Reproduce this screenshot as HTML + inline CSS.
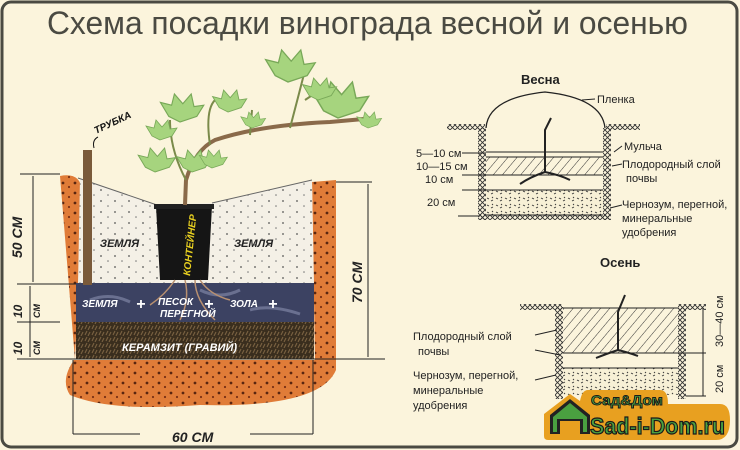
<!DOCTYPE html>
<html><head><meta charset="utf-8"><style>
html,body{margin:0;padding:0;background:#fff;}
svg{display:block;}
text{font-family:"Liberation Sans","DejaVu Sans",sans-serif;}
.h{font-style:italic;font-weight:bold;}
</style></head><body>
<svg width="740" height="450" viewBox="0 0 740 450" xmlns="http://www.w3.org/2000/svg">
<defs>
<pattern id="dots" width="14" height="11" patternUnits="userSpaceOnUse"><rect width="14" height="11" fill="#f4f0e6"/><circle cx="3" cy="3" r="0.9" fill="#555"/><circle cx="10" cy="8" r="0.8" fill="#777"/></pattern>
<pattern id="grav" width="7" height="6" patternUnits="userSpaceOnUse"><rect width="7" height="6" fill="#3a2e1e"/><path d="M1 5 L3 1 M4 6 L6 2" stroke="#7a6242" stroke-width="1.1"/></pattern>
<pattern id="orng" width="12" height="10" patternUnits="userSpaceOnUse"><rect width="12" height="10" fill="#e07c38"/><circle cx="3" cy="3" r="1.4" fill="#5a2610"/><circle cx="9" cy="7" r="1.1" fill="#7a3014"/></pattern>
<pattern id="hat" width="7" height="7" patternUnits="userSpaceOnUse" patternTransform="rotate(40)"><line x1="0" y1="0" x2="0" y2="7" stroke="#333" stroke-width="1"/></pattern>
<pattern id="xh" width="5" height="5" patternUnits="userSpaceOnUse"><path d="M0 0 L5 5 M5 0 L0 5" stroke="#333" stroke-width="0.9"/></pattern>
<pattern id="spk" width="9" height="7" patternUnits="userSpaceOnUse"><rect width="9" height="7" fill="#f7f0d6"/><path d="M1 2 l2 1 M5 5 l2 -1 M6 1 l1 1" stroke="#333" stroke-width="0.9"/></pattern>
<g id="leaf"><path d="M0 0 L-8 -4 L-14 -14 L-6 -12 L-4 -20 L2 -13 L8 -20 L10 -11 L17 -12 L12 -4 Z" fill="#a6d47e" stroke="#78a858" stroke-width="0.8"/></g>
</defs>
<rect x="0" y="0" width="740" height="450" fill="#fbf4dc"/>
<rect x="2" y="2" width="735" height="445" rx="9" fill="#fbf4dc" stroke="#4a4a42" stroke-width="3"/>
<text x="47" y="34" font-size="32" fill="#4a4a42" textLength="641" lengthAdjust="spacingAndGlyphs">Схема посадки винограда весной и осенью</text>

<!-- Left pit -->
<path d="M60 176 Q80 172 82 190 L75 360 L74 360 Q60 380 70 395 Q110 412 200 405 Q320 408 336 370 L336 180 L312 182 L315 360 L75 360 Z" fill="url(#orng)"/>
<path d="M80 178 L157 205 L212 203 L312 180 L314 285 L78 285 Z" fill="url(#dots)"/>
<path d="M78 178 L157 205 M212 203 L312 180" stroke="#666" stroke-width="1" fill="none"/>
<rect x="76" y="283" width="238" height="40" fill="#3c4262"/>
<path d="M90 300 q20 -8 40 2 M200 290 q20 10 40 0 M250 310 q20 -6 50 4" stroke="#6a7090" stroke-width="3" fill="none"/>
<rect x="76" y="322" width="238" height="37" fill="url(#grav)"/>
<rect x="83" y="150" width="9" height="135" fill="#7a5a3a"/>
<path d="M156 206 L212 206 L208 280 L160 280 Z" fill="#151515"/>
<rect x="154" y="204" width="60" height="5" fill="#222"/>
<text class="h" font-size="10" fill="#e8d020" transform="translate(190,276) rotate(-84)">КОНТЕЙНЕР</text>
<path d="M175 280 q-10 15 -25 25 M185 280 q5 20 -5 40 M200 280 q10 15 30 20 M195 280 q0 20 20 40" stroke="#b89070" stroke-width="1.5" fill="none"/>
<path d="M185 205 L186 180 Q195 150 215 140 Q260 125 330 122 L375 118" stroke="#8a6a4a" stroke-width="4" fill="none"/>
<path d="M186 180 Q170 150 170 120 M210 145 Q205 110 215 100 M290 128 Q300 90 305 70 M250 135 L252 110 M305 100 L320 90" stroke="#7a8a4a" stroke-width="2" fill="none"/>
<use href="#leaf" transform="translate(155,172) scale(1.2)"/>
<use href="#leaf" transform="translate(180,122) scale(1.4)"/>
<use href="#leaf" transform="translate(160,140) scale(1)"/>
<use href="#leaf" transform="translate(192,172) scale(1.1)"/>
<use href="#leaf" transform="translate(228,112) scale(1.1)"/>
<use href="#leaf" transform="translate(212,168) scale(0.9)"/>
<use href="#leaf" transform="translate(252,128) scale(0.8)"/>
<use href="#leaf" transform="translate(288,82) scale(1.6)"/>
<use href="#leaf" transform="translate(338,118) scale(1.8)"/>
<use href="#leaf" transform="translate(318,100) scale(1.1)"/>
<use href="#leaf" transform="translate(368,128) scale(0.8)"/>
<text class="h" font-size="10" fill="#111" transform="translate(96,134) rotate(-25)">ТРУБКА</text>
<path d="M98 137 Q92 140 94 148" stroke="#111" fill="none"/>
<text class="h" font-size="11" fill="#222" x="100" y="247">ЗЕМЛЯ</text>
<text class="h" font-size="11" fill="#222" x="234" y="247">ЗЕМЛЯ</text>
<text class="h" font-size="10" fill="#fff" x="82" y="307">ЗЕМЛЯ</text>
<text class="h" font-size="16" fill="#fff" x="136" y="309">+</text>
<text class="h" font-size="10" fill="#fff" x="158" y="305">ПЕСОК</text>
<text class="h" font-size="16" fill="#fff" x="204" y="309">+</text>
<text class="h" font-size="10" fill="#fff" x="160" y="317">ПЕРЕГНОЙ</text>
<text class="h" font-size="10" fill="#fff" x="230" y="307">ЗОЛА</text>
<text class="h" font-size="16" fill="#fff" x="268" y="309">+</text>
<text class="h" font-size="11" fill="#fff" x="122" y="351">КЕРАМЗИТ (ГРАВИЙ)</text>
<g stroke="#222" stroke-width="1" fill="none">
<line x1="20" y1="174" x2="60" y2="174"/><line x1="33" y1="176" x2="33" y2="282"/>
<line x1="17" y1="284" x2="76" y2="284"/><line x1="17" y1="322" x2="60" y2="322"/><line x1="17" y1="359" x2="385" y2="359"/>
<line x1="30" y1="286" x2="30" y2="357"/>
<line x1="336" y1="182" x2="372" y2="182"/><line x1="368" y1="184" x2="368" y2="357"/>
<line x1="73" y1="360" x2="73" y2="434"/><line x1="313" y1="360" x2="313" y2="434"/>
<line x1="73" y1="434" x2="140" y2="434"/><line x1="250" y1="434" x2="313" y2="434"/>
</g>
<text class="h" font-size="14" fill="#222" transform="translate(22,258) rotate(-90)">50 СМ</text>
<text class="h" font-size="12" fill="#222" transform="translate(22,318) rotate(-90)">10</text>
<text class="h" font-size="9" fill="#222" transform="translate(40,318) rotate(-90)">СМ</text>
<text class="h" font-size="12" fill="#222" transform="translate(22,355) rotate(-90)">10</text>
<text class="h" font-size="9" fill="#222" transform="translate(40,355) rotate(-90)">СМ</text>
<text class="h" font-size="14" fill="#222" transform="translate(362,303) rotate(-90)">70 СМ</text>
<text class="h" font-size="14" fill="#222" x="172" y="442">60 СМ</text>

<!-- Spring -->
<text x="521" y="84" font-size="13" font-weight="bold" fill="#222">Весна</text>
<path d="M486 128 Q488 98 545 92 Q602 98 605 128" stroke="#222" stroke-width="1.3" fill="none"/>
<line x1="582" y1="100" x2="595" y2="99" stroke="#222"/>
<text x="597" y="103" font-size="11" fill="#222">Пленка</text>
<rect x="447" y="124" width="38" height="6" fill="url(#xh)"/><rect x="606" y="124" width="34" height="6" fill="url(#xh)"/>
<rect x="478" y="128" width="8" height="92" fill="url(#xh)"/><rect x="603" y="128" width="8" height="92" fill="url(#xh)"/>
<rect x="480" y="214" width="130" height="6" fill="url(#xh)"/>
<rect x="486" y="157" width="117" height="18" fill="url(#hat)"/>
<rect x="486" y="190" width="117" height="25" fill="url(#spk)"/>
<g stroke="#222" stroke-width="1">
<line x1="486" y1="152" x2="603" y2="152"/><line x1="486" y1="157" x2="603" y2="157"/><line x1="486" y1="175" x2="603" y2="175"/><line x1="486" y1="190" x2="603" y2="190"/><line x1="486" y1="215" x2="603" y2="215"/>
<line x1="462" y1="153" x2="486" y2="153"/><line x1="462" y1="175" x2="486" y2="175"/><line x1="462" y1="190" x2="486" y2="190"/><line x1="458" y1="216" x2="480" y2="216"/>
<line x1="614" y1="152" x2="622" y2="146"/><line x1="612" y1="166" x2="622" y2="164"/><line x1="610" y1="208" x2="622" y2="205"/>
</g>
<path d="M545 172 L545 130 L551 118 M545 172 q-15 5 -25 12 M545 172 q15 3 25 8" stroke="#222" stroke-width="2" fill="none"/>
<text x="416" y="157" font-size="11" fill="#222">5—10 см</text>
<text x="416" y="170" font-size="11" fill="#222">10—15 см</text>
<text x="425" y="183" font-size="11" fill="#222">10  см</text>
<text x="427" y="206" font-size="11" fill="#222">20  см</text>
<text x="624" y="150" font-size="11" fill="#222">Мульча</text>
<text x="622" y="168" font-size="11" fill="#222">Плодородный слой</text>
<text x="626" y="182" font-size="11" fill="#222">почвы</text>
<text x="622" y="208" font-size="11" fill="#222">Чернозум, перегной,</text>
<text x="622" y="222" font-size="11" fill="#222">минеральные</text>
<text x="622" y="236" font-size="11" fill="#222">удобрения</text>

<!-- Autumn -->
<text x="600" y="267" font-size="13" font-weight="bold" fill="#222">Осень</text>
<rect x="520" y="304" width="42" height="6" fill="url(#xh)"/><rect x="678" y="304" width="28" height="6" fill="url(#xh)"/>
<rect x="555" y="307" width="8" height="92" fill="url(#xh)"/><rect x="678" y="307" width="8" height="92" fill="url(#xh)"/>
<rect x="563" y="308" width="115" height="45" fill="url(#hat)"/>
<rect x="563" y="368" width="115" height="27" fill="url(#spk)"/>
<g stroke="#222" stroke-width="1">
<line x1="563" y1="308" x2="678" y2="308"/><line x1="563" y1="353" x2="706" y2="353"/><line x1="563" y1="368" x2="678" y2="368"/><line x1="686" y1="396" x2="706" y2="396"/>
<line x1="703" y1="308" x2="703" y2="396"/>
<line x1="535" y1="335" x2="557" y2="330"/><line x1="535" y1="350" x2="560" y2="355"/><line x1="535" y1="380" x2="556" y2="375"/>
</g>
<path d="M618 350 L618 312 L625 295 M618 350 q-12 4 -22 8 M618 350 q12 3 20 6" stroke="#222" stroke-width="2" fill="none"/>
<text x="413" y="340" font-size="11" fill="#222">Плодородный слой</text>
<text x="418" y="355" font-size="11" fill="#222">почвы</text>
<text x="413" y="379" font-size="11" fill="#222">Чернозум, перегной,</text>
<text x="413" y="394" font-size="11" fill="#222">минеральные</text>
<text x="413" y="409" font-size="11" fill="#222">удобрения</text>
<text font-size="11" fill="#222" transform="translate(723,347) rotate(-90)">30—40 см</text>
<text font-size="11" fill="#222" transform="translate(723,393) rotate(-90)">20  см</text>

<!-- Logo -->
<path d="M544 436 L544 414 L570 394 L580 401 Q582 390 588 390 L660 390 Q668 390 668 404 L720 404 Q730 404 730 420 Q730 440 716 440 L548 440 Q544 440 544 436 Z" fill="#e8a020"/>
<path d="M550 434 L550 415 L570 399 L590 415 L590 434 L580 434 L580 421 L560 421 L560 434 Z" fill="#222"/>
<path d="M553 432 L553 417 L570 403 L587 417 L587 432 L583 432 L583 419 L557 419 L557 432 Z" fill="#4aa040"/>
<text x="591" y="405" font-size="14" font-weight="bold" fill="#4aa040" stroke="#1a1a1a" stroke-width="0.9" textLength="72" lengthAdjust="spacingAndGlyphs">Сад&amp;Дом</text>
<text x="590" y="434" font-size="23" font-weight="bold" fill="#4aa040" stroke="#1a1a1a" stroke-width="1.2" textLength="135" lengthAdjust="spacingAndGlyphs">Sad-i-Dom.ru</text>
</svg>
</body></html>
